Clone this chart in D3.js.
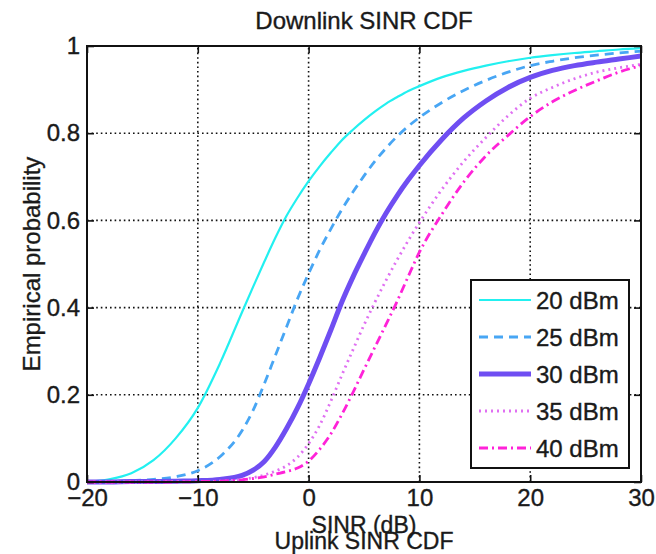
<!DOCTYPE html>
<html>
<head>
<meta charset="utf-8">
<script src="https://cdn.jsdelivr.net/npm/d3@7"></script>
<style>
  body { margin: 0; background: #fff; }
  svg text { font-family: "Liberation Sans", Arial, sans-serif; fill: #1a1a1a; stroke: #1a1a1a; stroke-width: 0.35; }
</style>
</head>
<body>
<svg id="chart" width="656" height="554"></svg>
<script>
  // SINR grid shared by every curve (dB)
  const sinr = [-20, -18, -16, -14, -12, -10, -8, -6, -5, -4, -3, -2, -1, 0, 1, 2, 3, 4, 5, 6, 7, 8, 9, 10, 12, 14, 16, 18, 20, 22, 24, 26, 28, 30];

  // empirical CDF per transmit power
  const p20 = [0, 0.006, 0.02, 0.05, 0.1, 0.17, 0.272, 0.39, 0.448, 0.505, 0.56, 0.61, 0.652, 0.69, 0.724, 0.755, 0.784, 0.808, 0.83, 0.85, 0.868, 0.883, 0.897, 0.908, 0.928, 0.943, 0.955, 0.965, 0.973, 0.979, 0.984, 0.988, 0.992, 0.995];
  const p25 = [0, 0.001, 0.003, 0.006, 0.012, 0.026, 0.058, 0.118, 0.165, 0.225, 0.29, 0.355, 0.42, 0.478, 0.532, 0.58, 0.625, 0.665, 0.702, 0.736, 0.766, 0.793, 0.816, 0.836, 0.87, 0.898, 0.921, 0.94, 0.955, 0.965, 0.973, 0.979, 0.984, 0.988];
  const p30 = [0, 0, 0.001, 0.001, 0.002, 0.003, 0.006, 0.015, 0.027, 0.047, 0.08, 0.122, 0.17, 0.225, 0.285, 0.348, 0.413, 0.47, 0.522, 0.572, 0.617, 0.657, 0.693, 0.726, 0.785, 0.835, 0.874, 0.905, 0.928, 0.944, 0.955, 0.963, 0.97, 0.977];
  const p35 = [0, 0, 0, 0, 0.001, 0.001, 0.002, 0.006, 0.01, 0.016, 0.025, 0.037, 0.057, 0.088, 0.13, 0.185, 0.245, 0.303, 0.36, 0.413, 0.463, 0.51, 0.554, 0.595, 0.67, 0.735, 0.79, 0.84, 0.88, 0.905, 0.925, 0.94, 0.95, 0.958];
  const p40 = [0, 0, 0, 0, 0, 0.001, 0.002, 0.005, 0.008, 0.012, 0.018, 0.024, 0.032, 0.048, 0.075, 0.11, 0.155, 0.205, 0.258, 0.31, 0.362, 0.415, 0.472, 0.527, 0.613, 0.688, 0.748, 0.795, 0.838, 0.872, 0.898, 0.92, 0.94, 0.955];

  const labels = ['20 dBm', '25 dBm', '30 dBm', '35 dBm', '40 dBm'];
  const xTicks = [-20, -10, 0, 10, 20, 30];
  const yTicks = [0, 0.2, 0.4, 0.6, 0.8, 1];

  const series = [
    { name: labels[0], values: p20, color: '#22f0f0', width: 2.2, dash: null },
    { name: labels[1], values: p25, color: '#48a6f4', width: 2.8, dash: '9,6' },
    { name: labels[2], values: p30, color: '#6f4ef2', width: 5, dash: null },
    { name: labels[3], values: p35, color: '#e070f2', width: 2.8, dash: '2,4' },
    { name: labels[4], values: p40, color: '#ff22d8', width: 2.8, dash: '9,4,2,4' }
  ];

  const margin = { left: 87, right: 15, top: 46, bottom: 72 };
  const W = 656, H = 554;
  const svg = d3.select('#chart');

  const x = d3.scaleLinear().domain([-20, 30]).range([margin.left, W - margin.right]);
  const y = d3.scaleLinear().domain([0, 1]).range([H - margin.bottom, margin.top]);

  svg.append('rect').attr('width', W).attr('height', H).attr('fill', '#fff');

  // dotted grid
  const grid = svg.append('g').attr('stroke', '#111').attr('stroke-width', 1.6).attr('stroke-dasharray', '1.6,3');
  grid.selectAll('.gx').data(xTicks.slice(1, -1)).enter().append('line')
    .attr('x1', d => x(d)).attr('x2', d => x(d))
    .attr('y1', y(0)).attr('y2', y(1));
  grid.selectAll('.gy').data(yTicks.slice(1, -1)).enter().append('line')
    .attr('y1', d => y(d)).attr('y2', d => y(d))
    .attr('x1', x(-20)).attr('x2', x(30));

  // curves
  const line = d3.line()
    .x((d, i) => x(sinr[i]))
    .y(d => y(d))
    .curve(d3.curveMonotoneX);

  svg.append('g').selectAll('path').data(series).enter().append('path')
    .attr('d', d => line(d.values))
    .attr('fill', 'none')
    .attr('stroke', d => d.color)
    .attr('stroke-width', d => d.width)
    .attr('stroke-dasharray', d => d.dash);

  // axes, MATLAB style: ticks inside on all four sides
  const tick = 7;
  svg.append('g').attr('transform', `translate(0,${y(0)})`)
    .call(d3.axisBottom(x).tickValues(xTicks).tickSizeInner(-tick).tickSizeOuter(0).tickPadding(7)
      .tickFormat(d => d < 0 ? '\u2212' + Math.abs(d) : d))
    .call(g => g.select('.domain').remove());
  svg.append('g').attr('transform', `translate(0,${y(1)})`)
    .call(d3.axisTop(x).tickValues(xTicks).tickSizeInner(-tick).tickSizeOuter(0).tickFormat(''))
    .call(g => g.select('.domain').remove());
  svg.append('g').attr('transform', `translate(${x(-20)},0)`)
    .call(d3.axisLeft(y).tickValues(yTicks).tickSizeInner(-tick).tickSizeOuter(0).tickPadding(7)
      .tickFormat(d => d === 0 || d === 1 ? d : d3.format('.1f')(d)))
    .call(g => g.select('.domain').remove());
  svg.append('g').attr('transform', `translate(${x(30)},0)`)
    .call(d3.axisRight(y).tickValues(yTicks).tickSizeInner(-tick).tickSizeOuter(0).tickFormat(''))
    .call(g => g.select('.domain').remove());

  svg.selectAll('.tick line').attr('stroke', '#111').attr('stroke-width', 1.6);
  svg.selectAll('.tick text').attr('font-size', 24).attr('fill', '#1a1a1a')
    .attr('font-family', '"Liberation Sans", Arial, sans-serif');

  svg.append('rect')
    .attr('x', x(-20)).attr('y', y(1))
    .attr('width', x(30) - x(-20)).attr('height', y(0) - y(1))
    .attr('fill', 'none').attr('stroke', '#111').attr('stroke-width', 2);

  // titles
  const cx = (x(-20) + x(30)) / 2;
  svg.append('text').attr('x', cx).attr('y', 29)
    .attr('text-anchor', 'middle').attr('font-size', 24).text('Downlink SINR CDF');
  svg.append('text').attr('x', cx).attr('y', 533)
    .attr('text-anchor', 'middle').attr('font-size', 23).text('SINR (dB)');
  svg.append('text').attr('x', cx).attr('y', 549)
    .attr('text-anchor', 'middle').attr('font-size', 23).text('Uplink SINR CDF');
  svg.append('text')
    .attr('transform', `translate(40,${(y(0) + y(1)) / 2}) rotate(-90)`)
    .attr('text-anchor', 'middle').attr('font-size', 24).text('Empirical probability');

  // legend
  const lg = svg.append('g').attr('transform', 'translate(471,280)');
  lg.append('rect').attr('width', 158).attr('height', 188)
    .attr('fill', '#fff').attr('stroke', '#111').attr('stroke-width', 2);
  const item = lg.selectAll('.item').data(series).enter().append('g')
    .attr('transform', (d, i) => `translate(0,${20 + i * 37})`);
  item.append('line').attr('x1', 8).attr('x2', 60)
    .attr('stroke', d => d.color).attr('stroke-width', d => d.width)
    .attr('stroke-dasharray', d => d.dash);
  item.append('text').attr('x', 65).attr('dy', '0.36em')
    .attr('font-size', 24).text(d => d.name);
</script>
</body>
</html>
